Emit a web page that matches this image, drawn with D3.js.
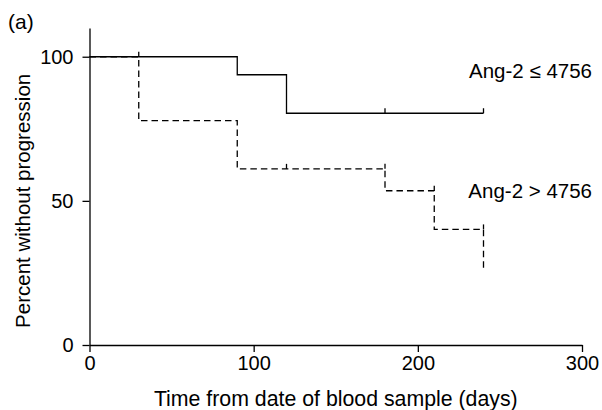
<!DOCTYPE html>
<html>
<head>
<meta charset="utf-8">
<script src="https://cdn.jsdelivr.net/npm/d3@7"></script>
<style>
  html, body { margin: 0; padding: 0; background: #fff; }
  svg { display: block; font-family: "Liberation Sans", Arial, Helvetica, sans-serif; }
</style>
</head>
<body>
<svg id="chart" width="602" height="410"></svg>
<script>
// ---- data ----
const xTicks = [0, 100, 200, 300];
const yTicks = [0, 50, 100];
// Ang-2 <= 4756 (solid)
const lowTimes = [0, 90, 120, 240];
const lowSurv = [100, 93.75, 80.4, 80.4];
const lowCensor = [180, 240];
// Ang-2 > 4756 (dashed)
const highTimes = [0, 30, 90, 180, 210, 240];
const highSurv = [100, 77.8, 61.1, 53.5, 40.1, 26.7];
const highCensor = [30, 120, 180, 210, 240];
const labels = ["Ang-2 \u2264 4756", "Ang-2 > 4756"];

// ---- layout ----
const svg = d3.select("#chart");
const x = d3.scaleLinear().domain([0, 300]).range([89.5, 582]);
const y = d3.scaleLinear().domain([0, 110]).range([345, 27.9]);

const xAxis = svg.append("g")
  .attr("transform", `translate(0,${y(0)})`)
  .call(d3.axisBottom(x).tickValues(xTicks).tickSize(7).tickSizeOuter(0).tickPadding(4));
const yAxis = svg.append("g")
  .attr("transform", `translate(${x(0)},0)`)
  .call(d3.axisLeft(y).tickValues(yTicks).tickSize(7).tickSizeOuter(0).tickPadding(9));

[xAxis, yAxis].forEach(g => {
  g.selectAll("path, line").attr("stroke", "#000").attr("stroke-width", 1.3);
  g.selectAll("text").attr("fill", "#000").style("font-size", "20px")
    .style("font-family", '"Liberation Sans", Arial, sans-serif');
});

// ---- curves ----
function drawKM(times, surv, censor, dash) {
  const pts = times.map((t, i) => [t, surv[i]]);
  const line = d3.line().x(d => x(d[0])).y(d => y(d[1])).curve(d3.curveStepAfter);
  svg.append("path")
    .datum(pts)
    .attr("d", line)
    .attr("fill", "none")
    .attr("stroke", "#000")
    .attr("stroke-width", 1.3)
    .attr("stroke-dasharray", dash);
  const survBefore = t => {
    let v = surv[0];
    times.forEach((tt, i) => { if (tt < t) v = surv[i]; });
    return v;
  };
  svg.append("g").selectAll("line")
    .data(censor)
    .join("line")
    .attr("x1", d => x(d)).attr("x2", d => x(d))
    .attr("y1", d => y(survBefore(d)))
    .attr("y2", d => y(survBefore(d)) - 5)
    .attr("stroke", "#000")
    .attr("stroke-width", 1.3);
}
drawKM(lowTimes, lowSurv, lowCensor, null);
drawKM(highTimes, highSurv, highCensor, "6.5,4");

// ---- texts ----
svg.append("text").attr("x", 592).attr("y", 78).attr("text-anchor", "end")
  .style("font-size", "20.5px").text(labels[0]);
svg.append("text").attr("x", 592).attr("y", 198).attr("text-anchor", "end")
  .style("font-size", "20.5px").text(labels[1]);

svg.append("text").attr("x", 335.8).attr("y", 405.5)
  .attr("text-anchor", "middle").style("font-size", "21.3px")
  .text("Time from date of blood sample (days)");
svg.append("text")
  .attr("transform", `translate(29.5,${(y(0) + y(100)) / 2}) rotate(-90)`)
  .attr("text-anchor", "middle").style("font-size", "20.5px")
  .text("Percent without progression");
svg.append("text").attr("x", 8).attr("y", 29).style("font-size", "21px").text("(a)");
</script>
</body>
</html>
